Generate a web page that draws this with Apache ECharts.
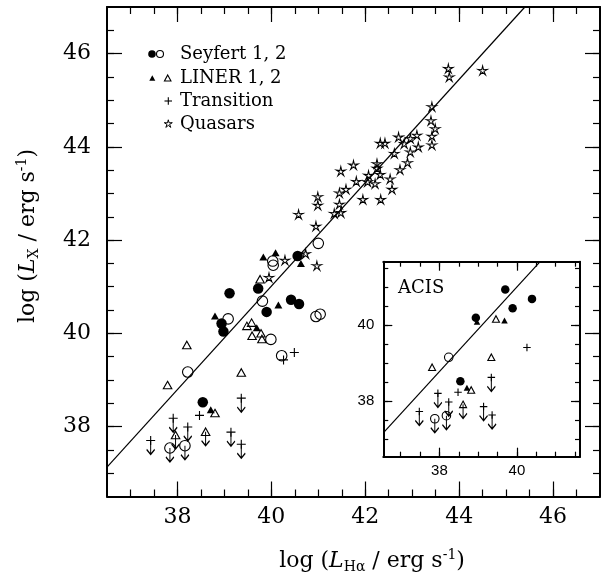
<!DOCTYPE html>
<html><head><meta charset="utf-8">
<script src="https://cdn.jsdelivr.net/npm/echarts@6/dist/echarts.min.js"></script>
<style>html,body{margin:0;padding:0;background:#fff}#c{width:602px;height:578px}</style>
</head><body><div id="c"></div><script>
// ---------------- data ----------------
// main panel
const sey1 = [[39.11,40.86],[39.72,40.96],[39.90,40.46],[38.94,40.21],[38.98,40.04],[40.42,40.72],[40.59,40.63],[40.56,41.66],[38.54,38.52]];
const sey2 = [[41.00,41.93],[40.03,41.55],[40.04,41.46],[39.81,40.69],[39.08,40.31],[39.99,39.87],[40.22,39.52],[40.95,40.36],[41.04,40.41],[38.22,39.17]];
const sey2UL = [[37.84,37.54],[38.16,37.59]];
const liner1 = [[39.83,41.64],[40.09,41.73],[40.63,41.50],[40.15,40.61],[38.80,40.37],[39.69,40.12],[38.71,38.36]];
const liner2 = [[39.76,41.16],[38.20,39.75],[37.79,38.89],[39.48,40.16],[39.58,40.23],[39.59,39.95],[39.78,40.00],[39.80,39.88],[39.36,39.16],[38.80,38.29]];
const liner2UL = [[37.96,37.82],[38.60,37.89]];
const trans = [[40.49,39.59],[40.26,39.43],[38.47,38.24]];
const transUL = [[37.43,37.70],[37.91,38.18],[38.22,37.99],[39.36,38.61],[39.14,37.88],[39.36,37.62]];
const quasars = [[43.77,45.68],[43.79,45.50],[44.50,45.64],[43.42,44.86],[43.40,44.56],[43.49,44.39],[43.42,44.23],[43.42,44.04],
  [43.10,44.25],[42.96,44.18],[42.83,44.07],[42.71,44.21],[43.13,44.00],[42.96,43.89],[42.62,43.86],[42.32,44.08],[42.42,44.08],
  [42.90,43.66],[42.74,43.51],[42.25,43.64],[42.25,43.54],[42.32,43.41],[42.53,43.31],[42.57,43.09],[42.21,43.21],[42.07,43.39],
  [42.05,43.25],[42.33,42.87],[41.95,42.87],[41.81,43.26],[41.75,43.61],[41.48,43.48],[41.59,43.09],[41.45,43.01],[41.45,42.77],
  [41.48,42.59],[41.34,42.57],[40.99,42.93],[40.99,42.75],[40.95,42.30],[40.58,42.55],[40.73,41.71],[40.97,41.45],[40.29,41.57],[39.95,41.20]];
const fitMain = [[36.5,37.13],[45.4,47.0]];
// inset (ACIS)
const inSey1 = [[39.70,40.94],[39.89,40.44],[40.39,40.69],[38.94,40.19],[38.54,38.52]];
const inSey2 = [[38.24,39.15]];
const inSey2UL = [[37.88,37.53],[38.18,37.61]];
const inLiner1 = [[38.97,40.09],[39.68,40.12],[38.71,38.35]];
const inLiner2 = [[39.46,40.16],[39.34,39.15],[37.81,38.89],[38.82,38.29]];
const inLiner2UL = [[38.61,37.91]];
const inTrans = [[40.26,39.41],[38.48,38.23]];
const inTransUL = [[37.48,37.72],[37.96,38.20],[38.24,37.97],[39.34,38.62],[39.14,37.85],[39.36,37.63]];
const fitInset = [[36.55,37.16],[40.60,41.67]];
// ticks
const mainRange = [36.5, 47];
const mainMajor = [38,40,42,44,46];
const mainMinor = [37,37.5,38,38.5,39,39.5,40,40.5,41,41.5,42,42.5,43,43.5,44,44.5,45,45.5,46,46.5];
const insetXRange = [36.55, 41.63];
const insetYRange = [36.53, 41.67];
const insetMajor = [38,40];
const insetMinor = [37,37.5,38,38.5,39,39.5,40,40.5,41,41.5];
const legendRows = ['Seyfert 1, 2','LINER 1, 2','Transition','Quasars'];

// ---------------- chart ----------------
const SERIF = 'DejaVu Serif';
const chart = echarts.init(document.getElementById('c'), null, {renderer:'canvas'});
const MAIN = {left:107, top:7, width:493, height:489.5};
const INS = {left:383.3, top:261.7, width:196.7, height:195};

function grid(r, bg){ return Object.assign({show:!!bg, backgroundColor:bg||'transparent', borderWidth:0, containLabel:false, outerBoundsMode:'none'}, r); }
function axis(g, pos, range, ticks, len, line, labels, lab){
  return {type:'value', gridIndex:g, position:pos, min:range[0], max:range[1], scale:true,
    axisLine:{show:line, onZero:false, lineStyle:{color:'#000', width:2}},
    axisTick:{show:true, inside:true, length:len, customValues:ticks, lineStyle:{color:'#000', width:1.2}},
    axisLabel: labels ? Object.assign({show:true, customValues:labels, color:'#000'}, lab) : {show:false},
    splitLine:{show:false}, minorTick:{show:false}};
}
const mainLab = {fontFamily:SERIF, fontSize:22};
const insLab = {fontFamily:'Liberation Sans', fontSize:15};
const xAxes = [
  axis(0,'bottom',mainRange,mainMinor,7,true),
  axis(0,'top',mainRange,mainMinor,7,true),
  axis(1,'bottom',mainRange,mainMajor,15,false,mainMajor,Object.assign({margin:10},mainLab)),
  axis(1,'top',mainRange,mainMajor,15,false),
  axis(2,'bottom',insetXRange,insetMinor,5,true),
  axis(2,'top',insetXRange,insetMinor,5,true),
  axis(3,'bottom',insetXRange,insetMajor,9,false,insetMajor,Object.assign({margin:7},insLab)),
  axis(3,'top',insetXRange,insetMajor,9,false)
];
const yAxes = [
  axis(0,'left',mainRange,mainMinor,7,true),
  axis(0,'right',mainRange,mainMinor,7,true),
  axis(1,'left',mainRange,mainMajor,15,false,mainMajor,Object.assign({margin:16},mainLab)),
  axis(1,'right',mainRange,mainMajor,15,false),
  axis(2,'left',insetYRange,insetMinor,5,true),
  axis(2,'right',insetYRange,insetMinor,5,true),
  axis(3,'left',insetYRange,insetMajor,9,false,insetMajor,Object.assign({margin:9},insLab)),
  axis(3,'right',insetYRange,insetMajor,9,false)
];

const PLUS = 'path://M0 5 L10 5 M5 0 L5 10';
const STAR = 'path://M10 0 L11.76 7.57 L19.51 6.91 L12.85 10.93 L15.88 18.09 L10 13 L4.12 18.09 L7.15 10.93 L0.49 6.91 L8.24 7.57 Z';
const ARROW = 'path://M4 0 L4 14 M0 9 L4 14 L8 9';
const NONE = 'rgba(0,0,0,0)';
function pts(data, ax, symbol, size, filled, extra){
  return Object.assign({type:'scatter', xAxisIndex:ax, yAxisIndex:ax, data:data, symbol:symbol, symbolSize:size,
    silent:true, animation:false, z:3,
    itemStyle: filled ? {color:'#000', borderWidth:0, opacity:1} : {color:NONE, borderColor:'#000', borderWidth:1.1, opacity:1}}, extra||{});
}
function arrows(data, ax, h){
  return pts(data, ax, ARROW, [8,h], false, {symbolOffset:[0,h/2], z:2, itemStyle:{color:NONE, borderColor:'#000', borderWidth:1.3, opacity:1}});
}
function fit(data, ax){
  return {type:'line', xAxisIndex:ax, yAxisIndex:ax, data:data, symbol:'none', silent:true, animation:false, z:1,
    lineStyle:{color:'#000', width:1.2}};
}
const series = [
  fit(fitMain,0),
  pts(sey1,0,'circle',10.5,true),
  pts(sey2,0,'circle',10.5,false),
  pts(sey2UL,0,'circle',10.5,false), arrows(sey2UL,0,14),
  pts(liner1,0,'triangle',[8,7],true),
  pts(liner2,0,'triangle',[8.5,7.5],false),
  pts(liner2UL,0,'triangle',[8.5,7.5],false), arrows(liner2UL,0,14),
  pts(trans,0,PLUS,9,false),
  pts(transUL,0,PLUS,9,false), arrows(transUL,0,14),
  pts(quasars,0,STAR,[9.5,9],false,{itemStyle:{color:NONE, borderColor:'#000', borderWidth:1, opacity:1}}),
  fit(fitInset,4),
  pts(inSey1,4,'circle',8.5,true),
  pts(inSey2,4,'circle',8.5,false),
  pts(inSey2UL,4,'circle',8.5,false), arrows(inSey2UL,4,14),
  pts(inLiner1,4,'triangle',[6.5,6],true),
  pts(inLiner2,4,'triangle',[7,6.5],false),
  pts(inLiner2UL,4,'triangle',[7,6.5],false), arrows(inLiner2UL,4,14),
  pts(inTrans,4,PLUS,7.5,false),
  pts(inTransUL,4,PLUS,7.5,false), arrows(inTransUL,4,14)
];

// legend + titles as graphic elements
function starPoints(cx, cy, R, r){
  const p=[]; for(let k=0;k<10;k++){const a=-Math.PI/2+k*Math.PI/5; const rr=k%2?r:R; p.push([cx+rr*Math.cos(a), cy+rr*Math.sin(a)]);} return p;
}
function triPoints(cx, cy, w, h){ return [[cx, cy-h/2],[cx+w/2, cy+h/2],[cx-w/2, cy+h/2]]; }
const ls = {stroke:'#000', lineWidth:1.1, fill:null};
const legendY = [54, 78, 101, 124];
const graphic = [
  {type:'circle', shape:{cx:152, cy:legendY[0], r:3.8}, style:{fill:'#000'}},
  {type:'circle', shape:{cx:160, cy:legendY[0], r:3.5}, style:Object.assign({},ls)},
  {type:'polygon', shape:{points:triPoints(152.3, legendY[1], 6, 5.5)}, style:{fill:'#000'}},
  {type:'polygon', shape:{points:triPoints(167.7, legendY[1], 6.5, 6)}, style:Object.assign({},ls)},
  {type:'line', shape:{x1:164.5, y1:legendY[2], x2:172, y2:legendY[2]}, style:{stroke:'#000', lineWidth:1.1}},
  {type:'line', shape:{x1:168.3, y1:legendY[2]-3.8, x2:168.3, y2:legendY[2]+3.8}, style:{stroke:'#000', lineWidth:1.1}},
  {type:'polygon', shape:{points:starPoints(168.3, legendY[3], 4.2, 1.4)}, style:{stroke:'#000', lineWidth:1, fill:null}}
];
legendRows.forEach((t,i)=>{
  graphic.push({type:'text', x:180, y:legendY[i], style:{text:t, fontFamily:SERIF, fontSize:18, fill:'#000', verticalAlign:'middle', align:'left'}});
});
graphic.push({type:'text', x:398, y:288.5, style:{text:'ACIS', fontFamily:SERIF, fontSize:18, fill:'#000', verticalAlign:'middle', align:'left'}, z:10});
const richT = {
  a:{fontFamily:SERIF, fontSize:22, fill:'#000'},
  i:{fontFamily:SERIF, fontSize:22, fontStyle:'italic', fill:'#000'},
  sub:{fontFamily:SERIF, fontSize:14, padding:[12,0,0,0], fill:'#000'},
  sup:{fontFamily:SERIF, fontSize:14, padding:[0,0,12,0], fill:'#000'}
};
graphic.push({type:'text', x:372, y:561, style:{text:'{a|log (}{i|L}{sub|H\u03b1}{a| / erg s}{sup|-1}{a|)}', rich:richT, align:'center', verticalAlign:'middle'}});
graphic.push({type:'text', x:28, y:236, rotation:Math.PI/2, style:{text:'{a|log (}{i|L}{sub|X}{a| / erg s}{sup|-1}{a|)}', rich:richT, align:'center', verticalAlign:'middle'}});

chart.setOption({
  animation:false,
  backgroundColor:'#fff',
  grid:[grid(MAIN), grid(MAIN), grid(INS,'#fff'), grid(INS)],
  xAxis:xAxes, yAxis:yAxes, series:series, graphic:graphic
});
</script></body></html>
